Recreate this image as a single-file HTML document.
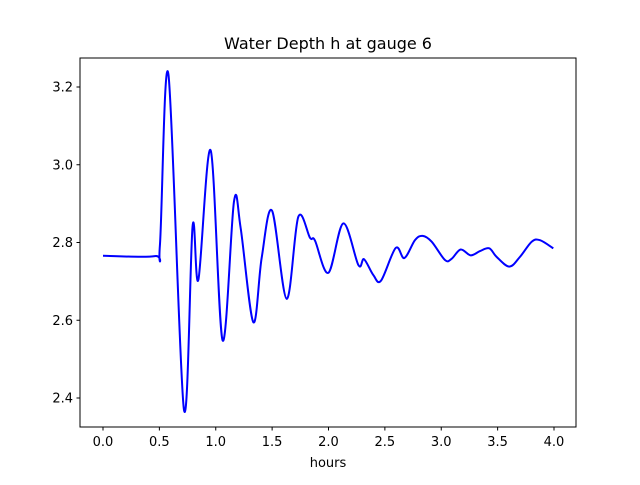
<!DOCTYPE html>
<html><head><meta charset="utf-8"><style>
body{margin:0;background:#fff}
svg{font-family:"DejaVu Sans","Liberation Sans",sans-serif}
</style></head><body>
<svg width="640" height="480" viewBox="0 0 640 480" xmlns="http://www.w3.org/2000/svg">
<rect x="0" y="0" width="640" height="480" fill="#fff"/>
<text x="328" y="49" text-anchor="middle" font-size="16">Water Depth h at gauge 6</text>
<g id="axes"></g>
<path id="line" fill="none" stroke="#0000ff" stroke-width="2"/>
<rect x="80" y="58" width="496" height="369" fill="none" stroke="#000" stroke-width="1"/>
<text x="328" y="467" text-anchor="middle" font-size="13">hours</text>
</svg>
<script>
const hours=[0,0.46,0.505,0.58,0.718,0.795,0.846,0.955,1.061,1.162,1.221,1.333,1.407,1.499,1.629,1.732,1.836,1.88,1.999,2.131,2.265,2.315,2.398,2.466,2.596,2.673,2.767,2.835,2.915,3.033,3.092,3.172,3.261,3.344,3.426,3.491,3.604,3.698,3.802,3.876,3.994];
const depth=[2.766,2.765,2.794,3.233,2.37,2.843,2.704,3.037,2.548,2.906,2.837,2.595,2.76,2.882,2.655,2.866,2.812,2.805,2.722,2.849,2.742,2.757,2.716,2.702,2.786,2.76,2.806,2.817,2.802,2.755,2.758,2.782,2.767,2.778,2.785,2.763,2.738,2.763,2.802,2.806,2.785];
const xTicks=[0,0.5,1,1.5,2,2.5,3,3.5,4];
const xTickLabels=["0.0","0.5","1.0","1.5","2.0","2.5","3.0","3.5","4.0"];
const yTicks=[2.4,2.6,2.8,3.0,3.2];
const yTickLabels=["2.4","2.6","2.8","3.0","3.2"];
const sx=v=>103+v*112.75;
const sy=v=>87+(3.2-v)*388.75;
const NS="http://www.w3.org/2000/svg";
const ax=document.getElementById('axes');
function mk(t,a,txt){const e=document.createElementNS(NS,t);for(const k in a)e.setAttribute(k,a[k]);if(txt!==undefined)e.textContent=txt;ax.appendChild(e);return e;}
xTicks.forEach((v,i)=>{
 const l=mk('line',{x1:sx(v),x2:sx(v),y1:427,y2:430.5,stroke:'#000'});
 
 
 const t=mk('text',{x:sx(v),y:446,'text-anchor':'middle','font-size':13},xTickLabels[i]);
 
 
});
yTicks.forEach((v,i)=>{
 const l=mk('line',{x1:76.5,x2:80,y1:sy(v),y2:sy(v),stroke:'#000'});
 
 
 const t=mk('text',{x:73,y:sy(v)+4.5,'text-anchor':'end','font-size':13},yTickLabels[i]);
 
 
});
const P=hours.map((h,i)=>[sx(h),sy(depth[i])]);
let d='M'+P[0][0]+','+P[0][1];
for(let i=0;i<P.length-1;i++){
 const p0=P[Math.max(0,i-1)],p1=P[i],p2=P[i+1],p3=P[Math.min(P.length-1,i+2)];
 const c1=[p1[0]+(p2[0]-p0[0])/6,p1[1]+(p2[1]-p0[1])/6];
 const c2=[p2[0]-(p3[0]-p1[0])/6,p2[1]-(p3[1]-p1[1])/6];
 d+=` C${c1[0]},${c1[1]} ${c2[0]},${c2[1]} ${p2[0]},${p2[1]}`;
}
document.getElementById('line').setAttribute('d',d);
</script>
</body></html>
